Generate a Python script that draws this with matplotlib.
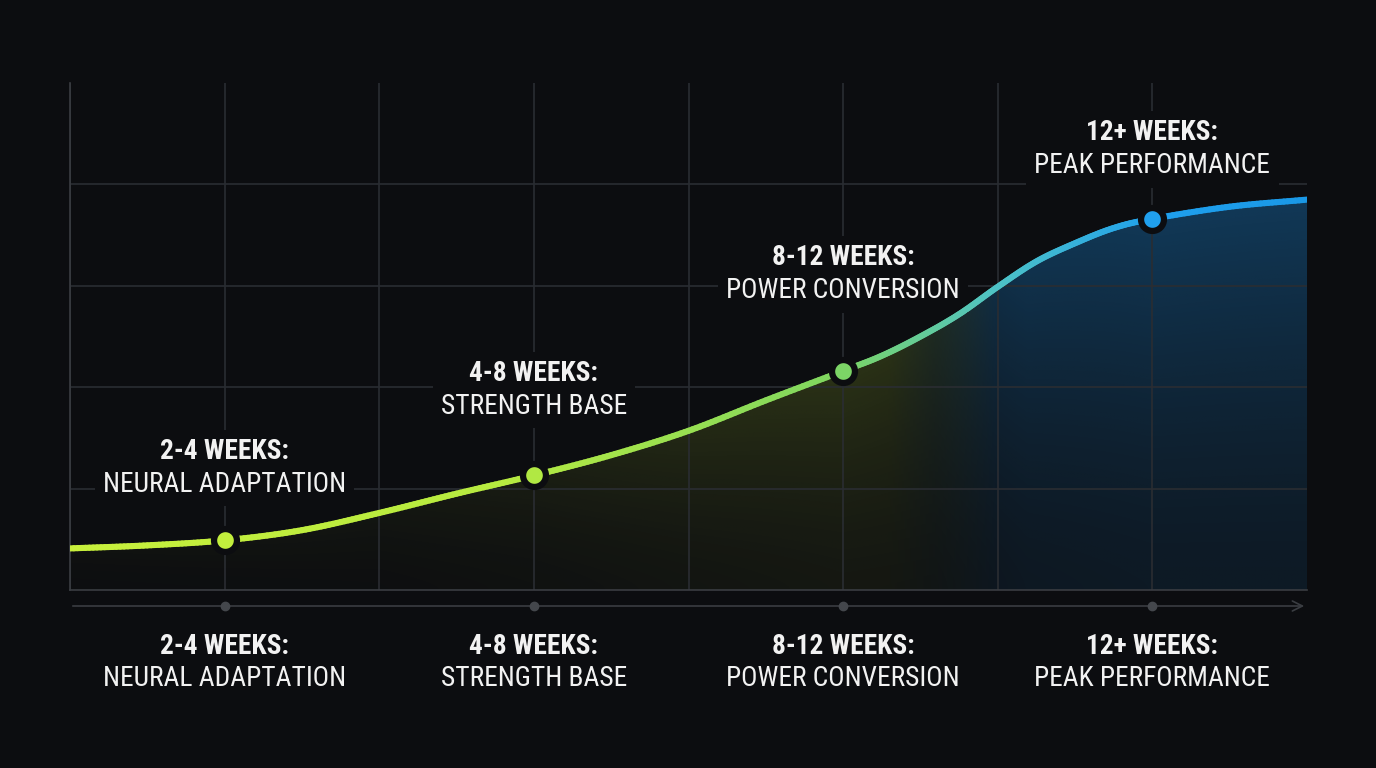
"""
Training phases curve: dark theme, gradient line with gradient area fill
"""

import matplotlib
matplotlib.use("Agg")
import matplotlib.pyplot as plt
import numpy as np
from matplotlib import font_manager
from matplotlib.collections import LineCollection
from matplotlib.colors import LinearSegmentedColormap, to_rgb

# ---- data ----
curve_x = [-0.5, -0.25, 0.0, 0.25, 0.5, 0.75, 1.0, 1.25, 1.5, 1.75,
           2.0, 2.125, 2.25, 2.375, 2.5, 2.625, 2.75, 2.875, 3.0, 3.25, 3.5]
curve_y = [0.41, 0.44, 0.49, 0.59, 0.76, 0.95, 1.13, 1.33, 1.57, 1.87,
           2.16, 2.31, 2.50, 2.72, 2.99, 3.24, 3.42, 3.57, 3.66, 3.78, 3.85]
phase_x = [0, 1, 2, 3]
phase_y = [0.49, 1.13, 2.16, 3.66]
phase_titles = ["2-4 WEEKS:", "4-8 WEEKS:", "8-12 WEEKS:", "12+ WEEKS:"]
phase_names = ["NEURAL ADAPTATION", "STRENGTH BASE", "POWER CONVERSION", "PEAK PERFORMANCE"]

BG = "#0c0d10"
GRID = "#2a2d32"
SPINE = "#3a3d42"
TEXT = "#f2f2f2"

# pick a narrow font if one is installed
names = {f.name for f in font_manager.fontManager.ttflist}
FONT = "Roboto"
FS = 16.5
for cand in ["Roboto Condensed", "Liberation Sans Narrow", "Open Sans Condensed"]:
    if cand in names:
        FONT, FS = cand, 19.7
        break
plt.rcParams["font.family"] = [FONT, "DejaVu Sans"]

line_cmap = LinearSegmentedColormap.from_list("phase", [
    (0.0, "#c8f03c"), (0.35, "#b6ea40"), (0.62, "#7fd660"),
    (0.75, "#4ec3c6"), (0.88, "#1fa0ee"), (1.0, "#1a98e6")])


def smooth(xs, ys, n=20):
    """Catmull-Rom pass for drawing a smooth line through the read points"""
    xs, ys = np.asarray(xs), np.asarray(ys)
    px = np.concatenate([[2 * xs[0] - xs[1]], xs, [2 * xs[-1] - xs[-2]]])
    py = np.concatenate([[2 * ys[0] - ys[1]], ys, [2 * ys[-1] - ys[-2]]])
    ox, oy = [], []
    t = np.linspace(0, 1, n, endpoint=False)
    for i in range(1, len(px) - 2):
        for arr, out in ((px, ox), (py, oy)):
            p0, p1, p2, p3 = arr[i - 1:i + 3]
            out.extend(0.5 * (2 * p1 + (-p0 + p2) * t + (2 * p0 - 5 * p1 + 4 * p2 - p3) * t ** 2
                              + (-p0 + 3 * p1 - 3 * p2 + p3) * t ** 3))
    ox.append(xs[-1])
    oy.append(ys[-1])
    return np.array(ox), np.array(oy)


fig = plt.figure(figsize=(13.76, 7.68), dpi=100, facecolor=BG)
ax = fig.add_axes([70 / 1376, 1 - 590 / 768, 1237 / 1376, 507 / 768])
ax.set_facecolor(BG)
ax.set_xlim(-0.5, 3.5)
ax.set_ylim(0, 5)

# grid
ax.set_xticks(np.arange(-0.5, 3.01, 0.5))
ax.set_yticks([1, 2, 3, 4])
ax.grid(True, color=GRID, linewidth=1.2)
ax.tick_params(length=0, labelbottom=False, labelleft=False)
for side in ["top", "right"]:
    ax.spines[side].set_visible(False)
for side in ["left", "bottom"]:
    ax.spines[side].set_color(SPINE)
    ax.spines[side].set_linewidth(1.2)
ax.set_axisbelow(True)

sx, sy = smooth(curve_x, curve_y)

# gradient area fill: olive under the green part, blue under the blue part
nx, ny = 400, 200
gx = np.linspace(-0.5, 3.5, nx)
gy = np.linspace(0, 5, ny)
olive = np.array(to_rgb("#a8c830"))
blue = np.array(to_rgb("#1a80cc"))
w = np.clip((gx - 2.15) / 0.35, 0, 1)[:, None]
fill_col = olive * (1 - w) + blue * w
alpha_x = np.interp(gx, [-0.5, 0.5, 1.0, 1.5, 2.0, 2.3, 2.6, 3.0, 3.5],
                    [0.03, 0.05, 0.09, 0.15, 0.20, 0.19, 0.33, 0.38, 0.38])
top_y = np.interp(gx, sx, sy)
img = np.zeros((ny, nx, 4))
img[:, :, :3] = fill_col[None, :, :]
rel = np.clip(gy[:, None] / top_y[None, :], 0, 1)
img[:, :, 3] = alpha_x[None, :] * (0.3 + 0.7 * rel ** 1.5)
im = ax.imshow(img, extent=[-0.5, 3.5, 0, 5], origin="lower", aspect="auto",
               interpolation="bilinear", zorder=0.3)
poly = ax.fill_between(sx, 0, sy, color="none")
clip_path = poly.get_paths()[0]
im.set_clip_path(clip_path, transform=ax.transData)

# gradient line
pts = np.column_stack([sx, sy]).reshape(-1, 1, 2)
segs = np.concatenate([pts[:-1], pts[1:]], axis=1)
lc = LineCollection(segs, colors=line_cmap((sx[:-1] + 0.5) / 4.0),
                    linewidth=4.4, capstyle="round", zorder=3)
ax.add_collection(lc)

# phase points
for x, y in zip(phase_x, phase_y):
    ax.plot(x, y, "o", ms=16.5, mfc=line_cmap((x + 0.5) / 4.0), mec=BG, mew=4.5, zorder=4)

# labels above the points: dark boxes (behind the curve) break the grid lines,
# the text itself is drawn on top
label_off = [56, 69, 80, 53]
box = dict(boxstyle="square,pad=0.3", fc=BG, ec="none")
for x, y, t, n, off in zip(phase_x, phase_y, phase_titles, phase_names, label_off):
    for s, dy, fw in ((n, off, "normal"), (t, off + 33, "bold")):
        ax.annotate(s, (x, y), xytext=(0, dy), textcoords="offset pixels",
                    ha="center", va="center", fontsize=FS, fontweight=fw,
                    color="none", zorder=2.5, bbox=box)
        ax.annotate(s, (x, y), xytext=(0, dy), textcoords="offset pixels",
                    ha="center", va="center", fontsize=FS, fontweight=fw,
                    color=TEXT, zorder=5)

# timeline below the axes
trans = ax.get_xaxis_transform()
ax_y = -16 / 507
ax.annotate("", xy=(3.5, ax_y), xytext=(-0.5, ax_y), xycoords=trans, textcoords=trans,
            arrowprops=dict(arrowstyle="->", color=SPINE, lw=1.2, mutation_scale=18),
            annotation_clip=False)
ax.plot(phase_x, [ax_y] * len(phase_x), "o", ms=6, color="#44474c", transform=trans,
        clip_on=False, zorder=5)
for x, t, n in zip(phase_x, phase_titles, phase_names):
    ax.text(x, -56 / 507, t, transform=trans, ha="center", va="center",
            fontsize=FS, fontweight="bold", color=TEXT)
    ax.text(x, -89 / 507, n, transform=trans, ha="center", va="center",
            fontsize=FS, color=TEXT)

fig.savefig("out.png", dpi=100, facecolor=BG)
